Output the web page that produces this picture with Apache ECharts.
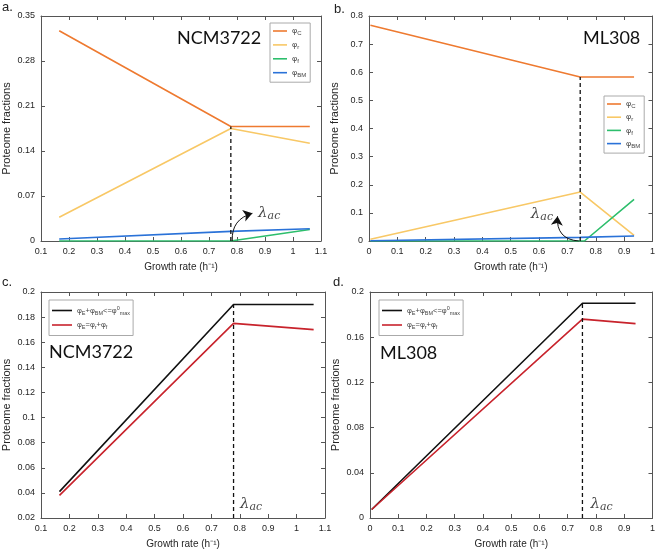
<!DOCTYPE html>
<html>
<head>
<meta charset="utf-8">
<script src="https://cdn.jsdelivr.net/npm/echarts@6/dist/echarts.min.js"></script>
<style>html,body{margin:0;padding:0;background:#fff}#c{width:658px;height:550px}</style>
</head>
<body>
<div id="c"></div>
<script>
// ---------- data ----------
// panel a (NCM3722)
const aX = [0.165, 0.778, 1.06];
const aPhiC = [0.327, 0.178, 0.178];
const aPhiR = [0.037, 0.175, 0.152];
const aPhiF = [0, 0, 0.018];
const aPhiBM = [0.003, 0.015, 0.019];
const aLambda = 0.778;
// panel b (ML308)
const bX = [0.005, 0.745, 0.935];
const bPhiC = [0.767, 0.583, 0.583];
const bPhiR = [0.006, 0.174, 0.02];
const bFX = [0.005, 0.76, 0.935];
const bPhiF = [0, 0, 0.148];
const bPhiBM = [0.001, 0.013, 0.018];
const bLambda = 0.745;
// panel c (NCM3722)
const cX = [0.165, 0.778, 1.06];
const cMax = [0.041, 0.19, 0.19];
const cE = [0.038, 0.175, 0.17];
// panel d (ML308)
const dX = [0.006, 0.752, 0.94];
const dMax = [0.0075, 0.19, 0.19];
const dE = [0.0075, 0.176, 0.172];

const COL = {C:'#EE7A30', r:'#F8C866', f:'#2DBE6C', BM:'#2A72D8', max:'#111111', E:'#C8232C'};
const FONT = '"Liberation Sans", Arial, sans-serif';
const AX = '#555';

function zip(xs, ys){ return xs.map((x,i)=>[x, ys[i]]); }
function fmt(v){ return String(+v.toFixed(3)); }

const grids = [
  {left:41, top:16, width:280, height:225},
  {left:369, top:16, width:285, height:225},
  {left:41, top:292, width:284, height:226},
  {left:370, top:292, width:284, height:226}
];
const xr = [[0.1,1.1,0.1],[0,1,0.1],[0.1,1.1,0.1],[0,1,0.1]];
const yr = [[0,0.35,0.07],[0,0.8,0.1],[0.02,0.2,0.02],[0,0.2,0.04]];

const xAxis = [], yAxis = [];
for (let i=0;i<4;i++){
  xAxis.push({type:'value', gridIndex:i, min:xr[i][0], max:xr[i][1], interval:xr[i][2],
    name:'Growth rate (h⁻¹)', nameLocation:'middle', nameGap:21,
    nameTextStyle:{fontFamily:FONT, fontSize:10, color:'#262626'},
    axisLine:{show:true, onZero:false, lineStyle:{color:AX, width:1}},
    axisTick:{show:true, inside:true, length:4, lineStyle:{color:AX}},
    axisLabel:{fontFamily:FONT, fontSize:9, color:'#262626', margin:6, formatter:fmt},
    splitLine:{show:false}});
  yAxis.push({type:'value', gridIndex:i, min:yr[i][0], max:yr[i][1], interval:yr[i][2],
    name:'Proteome fractions', nameLocation:'middle', nameGap:29,
    nameTextStyle:{fontFamily:FONT, fontSize:11, color:'#262626'},
    axisLine:{show:true, onZero:false, lineStyle:{color:AX, width:1}},
    axisTick:{show:true, inside:true, length:4, lineStyle:{color:AX}},
    axisLabel:{fontFamily:FONT, fontSize:9, color:'#262626', margin:6, formatter:fmt},
    splitLine:{show:false}});
}
// mirror axes (top / right) for the MATLAB box
for (let i=0;i<4;i++){
  xAxis.push({type:'value', gridIndex:i, position:'top', min:xr[i][0], max:xr[i][1], interval:xr[i][2],
    axisLine:{show:true, onZero:false, lineStyle:{color:AX, width:1}},
    axisTick:{show:true, inside:true, length:4, lineStyle:{color:AX}},
    axisLabel:{show:false}, splitLine:{show:false}});
  yAxis.push({type:'value', gridIndex:i, position:'right', min:yr[i][0], max:yr[i][1], interval:yr[i][2],
    axisLine:{show:true, onZero:false, lineStyle:{color:AX, width:1}},
    axisTick:{show:true, inside:true, length:4, lineStyle:{color:AX}},
    axisLabel:{show:false}, splitLine:{show:false}});
}

function line(name, g, data, color){
  return {type:'line', name:name, xAxisIndex:g, yAxisIndex:g, data:data, symbol:'none',
    lineStyle:{color:color, width:1.6}, itemStyle:{color:color}, silent:true, z:3};
}
function dash(g, x, y0, y1){
  return {type:'line', xAxisIndex:g, yAxisIndex:g, data:[[x,y0],[x,y1]], symbol:'none',
    lineStyle:{color:'#111', width:1.3, type:[4,3]}, silent:true, z:4};
}
const lamRich = {
  l:{fontFamily:'"DejaVu Serif", serif', fontStyle:'italic', fontSize:15, color:'#111'},
  s:{fontFamily:'"DejaVu Serif", serif', fontStyle:'italic', fontSize:11, color:'#111', padding:[6,0,0,0]}
};
function lam(g, x, y){
  return {type:'scatter', xAxisIndex:g, yAxisIndex:g, data:[[x,y]], symbolSize:0, silent:true, z:6,
    label:{show:true, position:'inside', formatter:'{l|λ}{s|ac}', rich:lamRich}};
}
function arrow(g, from, to, curv){
  return {type:'lines', coordinateSystem:'cartesian2d', xAxisIndex:g, yAxisIndex:g, silent:true, z:6,
    symbol:['none','arrow'], symbolSize:9,
    lineStyle:{color:'#111', width:1, opacity:1, curveness:curv},
    itemStyle:{color:'#111'},
    data:[{coords:[from, to]}]};
}

const names = {aC:['φ','C'], ar:['φ','r'], af:['φ','f'], aBM:['φ','BM'],
               bC:['φ','C'], br:['φ','r'], bf:['φ','f'], bBM:['φ','BM']};

const series = [
  line('aC',0,zip(aX,aPhiC),COL.C),
  line('ar',0,zip(aX,aPhiR),COL.r),
  line('af',0,zip(aX,aPhiF),COL.f),
  line('aBM',0,zip(aX,aPhiBM),COL.BM),
  dash(0,aLambda,0,aPhiC[1]),
  arrow(0,[aLambda+0.005,0.0],[0.855,0.043],0.4),
  lam(0,0.915,0.044),

  line('bC',1,zip(bX,bPhiC),COL.C),
  line('br',1,zip(bX,bPhiR),COL.r),
  line('bf',1,zip(bFX,bPhiF),COL.f),
  line('bBM',1,zip(bX,bPhiBM),COL.BM),
  dash(1,bLambda,0,bPhiC[1]),
  arrow(1,[bLambda-0.005,0.0],[0.665,0.088],0.5),
  lam(1,0.61,0.097),

  line('cMax',2,zip(cX,cMax),COL.max),
  line('cE',2,zip(cX,cE),COL.E),
  dash(2,cX[1],0.02,cMax[1]),
  lam(2,0.84,0.031),

  line('dMax',3,zip(dX,dMax),COL.max),
  line('dE',3,zip(dX,dE),COL.E),
  dash(3,dX[1],0,dMax[1]),
  lam(3,0.82,0.012)
];

const legRich = {
  p:{fontFamily:FONT, fontSize:8, color:'#444'},
  s:{fontFamily:FONT, fontSize:6, color:'#444', padding:[5,0,0,0]},
  t:{fontFamily:FONT, fontSize:6, color:'#444', padding:[0,0,5,0]},
  o:{fontFamily:FONT, fontSize:8, color:'#444'}
};
const legRichCD = {
  p:{fontFamily:FONT, fontSize:7.5, color:'#444'},
  s:{fontFamily:FONT, fontSize:5.5, color:'#444', padding:[5,0,0,0]},
  t:{fontFamily:FONT, fontSize:5.5, color:'#444', padding:[0,0,5,0]},
  o:{fontFamily:FONT, fontSize:7.5, color:'#444'}
};
function phiFmt(name){ const n = names[name]; return '{p|' + n[0] + '}{s|' + n[1] + '}'; }
const cdFmt = function(name){
  if (name === 'cMax' || name === 'dMax') return '{p|φ}{s|E}{o|+φ}{s|BM}{o|<=φ}{t|0}{s|max}';
  return '{p|φ}{s|E}{o|=φ}{s|r}{o|+φ}{s|f}';
};
const legBase = {show:true, orient:'vertical', itemWidth:14, itemHeight:10, itemGap:4.4, padding:[4,4,4,3],
  borderColor:'#aaa', borderWidth:1, backgroundColor:'#fff', selectedMode:false, symbolKeepAspect:true,
  icon:'path://M0,0H14V1.6H0Z',
  textStyle:{rich:legRich, fontSize:8, color:'#444'}};

const legend = [
  Object.assign({}, legBase, {left:270, top:23, data:['aC','ar','af','aBM'], formatter:phiFmt}),
  Object.assign({}, legBase, {left:604, top:96, itemGap:3.7, data:['bC','br','bf','bBM'], formatter:phiFmt}),
  Object.assign({}, legBase, {left:49, top:300, itemWidth:20, itemGap:5, padding:[5,3,5,3],
    icon:'path://M0,0H20V1.6H0Z', textStyle:{rich:legRichCD, fontSize:7.5, color:'#444'},
    data:['cMax','cE'], formatter:cdFmt}),
  Object.assign({}, legBase, {left:379, top:300, itemWidth:20, itemGap:5, padding:[5,3,5,3],
    icon:'path://M0,0H20V1.6H0Z', textStyle:{rich:legRichCD, fontSize:7.5, color:'#444'},
    data:['dMax','dE'], formatter:cdFmt})
];

const titleFont = 'Lato, "Open Sans", sans-serif';
const graphic = [
  {type:'text', left:2, top:1, style:{text:'a.', font:'13px ' + FONT, fill:'#222'}},
  {type:'text', left:334, top:3, style:{text:'b.', font:'13px ' + FONT, fill:'#222'}},
  {type:'text', left:2, top:276, style:{text:'c.', font:'13px ' + FONT, fill:'#222'}},
  {type:'text', left:333, top:276, style:{text:'d.', font:'13px ' + FONT, fill:'#222'}},
  {type:'text', left:177, top:29, style:{text:'NCM3722', font:'18px ' + titleFont, fill:'#111'}},
  {type:'text', left:583, top:29, style:{text:'ML308', font:'18px ' + titleFont, fill:'#111'}},
  {type:'text', left:49, top:343, style:{text:'NCM3722', font:'18px ' + titleFont, fill:'#111'}},
  {type:'text', left:380, top:344, style:{text:'ML308', font:'18px ' + titleFont, fill:'#111'}}
];

const chart = echarts.init(document.getElementById('c'));
chart.setOption({animation:false, backgroundColor:'#fff', grid:grids, xAxis:xAxis, yAxis:yAxis,
  series:series, legend:legend, graphic:graphic});
</script>
</body>
</html>
